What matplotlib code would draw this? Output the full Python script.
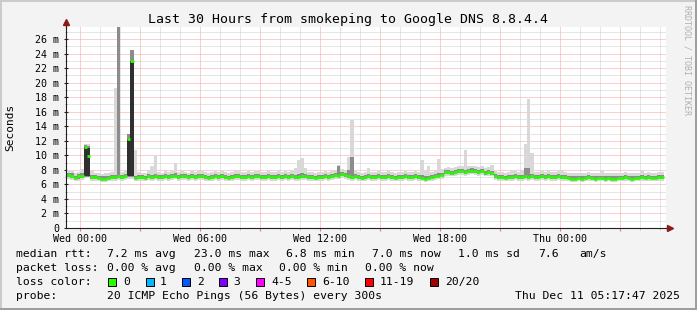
import numpy as np
import pandas as pd
import matplotlib
matplotlib.use("Agg")
import matplotlib.pyplot as plt
import matplotlib.dates as mdates
from matplotlib.patches import Rectangle
from matplotlib.ticker import MultipleLocator, FuncFormatter

# 10 minute bins starting Tue 23:20, values in ms
bin_start = "2025-12-09 23:20"
view_start = "2025-12-09 23:17:47"
view_end = "2025-12-11 05:17:47"

median_ms = [
    7.3, 7.2, 6.9, 7.1, 7.2, 11.1, 9.9, 7.0, 7.0, 6.9, 6.8, 6.8,
    6.9, 7.0, 7.0, 7.1, 7.0, 7.1, 12.2, 23.0, 6.9, 7.0, 7.0, 6.9,
    7.1, 7.0, 7.1, 7.0, 7.0, 7.1, 7.0, 7.1, 7.2, 7.0, 7.1, 7.1,
    7.0, 7.1, 7.0, 7.1, 7.1, 7.0, 6.9, 7.0, 7.1, 7.0, 7.1, 7.0,
    6.9, 7.0, 7.1, 7.1, 7.0, 7.0, 7.1, 7.0, 7.1, 7.1, 7.0, 7.0,
    7.1, 7.0, 7.0, 7.1, 7.0, 7.1, 7.0, 7.1, 7.0, 7.0, 7.1, 7.1,
    7.0, 7.0, 6.9, 7.0, 7.0, 7.1, 7.0, 7.1, 7.3, 7.2, 7.4, 7.3,
    7.1, 7.0, 7.1, 7.0, 6.9, 7.0, 7.1, 7.0, 7.0, 7.1, 7.0, 7.0,
    7.1, 7.0, 6.9, 7.0, 7.0, 7.1, 7.0, 7.0, 7.1, 7.0, 6.9, 6.8,
    6.9, 7.0, 7.1, 7.2, 7.3, 7.7, 7.7, 7.6, 7.7, 7.8, 7.8, 7.7,
    7.8, 7.9, 7.8, 7.7, 7.8, 7.6, 7.7, 7.6, 7.1, 7.0, 7.0, 6.9,
    7.0, 7.0, 7.1, 7.0, 7.0, 7.1, 7.0, 7.1, 7.0, 7.0, 7.1, 7.0,
    7.1, 7.0, 7.0, 7.1, 7.0, 7.0, 6.9, 6.8, 6.8, 6.9, 6.8, 6.9,
    7.0, 6.9, 6.8, 6.9, 6.9, 6.8, 6.9, 6.8, 6.8, 6.9, 6.9, 7.0,
    6.9, 6.8, 6.9, 6.9, 7.0, 6.9, 7.0, 6.9, 6.9, 7.0, 7.0,
]

smoke_max = [
    8.0, 7.9, 7.6, 7.7, 8.1, 11.6, 11.5, 7.8, 7.6, 7.5, 7.4, 7.5,
    7.6, 7.7, 19.3, 27.7, 7.7, 8.0, 12.9, 24.5, 10.7, 7.7, 7.6, 7.6,
    7.8, 8.5, 9.9, 7.7, 7.6, 7.8, 7.7, 7.8, 9.0, 7.7, 7.8, 7.7,
    7.6, 7.8, 7.7, 7.8, 7.8, 7.7, 7.6, 7.7, 7.8, 7.7, 7.9, 7.7,
    7.6, 7.7, 7.8, 7.8, 7.7, 7.7, 7.8, 7.7, 7.8, 7.9, 7.7, 7.7,
    7.8, 7.7, 7.7, 7.8, 7.7, 7.8, 7.7, 7.8, 8.3, 9.3, 9.6, 8.2,
    7.7, 7.7, 7.6, 7.7, 7.7, 7.8, 7.7, 7.8, 8.0, 8.7, 8.1, 8.0,
    9.8, 14.8, 7.8, 7.7, 7.6, 7.7, 8.2, 7.7, 7.7, 7.8, 7.7, 7.7,
    7.8, 7.7, 7.6, 7.7, 7.7, 7.8, 7.7, 7.7, 7.8, 7.7, 9.4, 7.9,
    8.6, 7.7, 7.8, 9.5, 8.1, 8.3, 8.4, 8.3, 8.4, 8.5, 8.5, 10.7,
    8.5, 8.6, 8.5, 8.4, 8.5, 8.3, 8.4, 8.7, 7.8, 7.7, 7.7, 7.6,
    7.7, 8.0, 7.8, 7.7, 7.8, 11.6, 17.8, 10.3, 7.7, 7.7, 7.8, 7.7,
    7.8, 7.7, 7.7, 7.8, 8.0, 7.7, 7.6, 7.5, 7.5, 7.6, 7.5, 7.6,
    7.7, 7.6, 7.5, 7.6, 8.0, 7.5, 7.6, 7.5, 7.5, 7.6, 7.6, 7.7,
    7.6, 7.5, 7.6, 7.6, 8.0, 7.6, 7.7, 7.6, 7.6, 7.7, 7.7,
]

smoke_min = [
    6.7, 6.6, 6.4, 6.5, 6.6, 7.0, 7.0, 6.5, 6.5, 6.4, 6.3, 6.3,
    6.4, 6.5, 6.5, 6.6, 6.5, 6.6, 6.8, 6.8, 6.4, 6.5, 6.5, 6.4,
    6.6, 6.5, 6.6, 6.5, 6.5, 6.6, 6.5, 6.6, 6.7, 6.5, 6.6, 6.6,
    6.5, 6.6, 6.5, 6.6, 6.6, 6.5, 6.4, 6.5, 6.6, 6.5, 6.6, 6.5,
    6.4, 6.5, 6.6, 6.6, 6.5, 6.5, 6.6, 6.5, 6.6, 6.6, 6.5, 6.5,
    6.6, 6.5, 6.5, 6.6, 6.5, 6.6, 6.5, 6.6, 6.5, 6.5, 6.6, 6.6,
    6.5, 6.5, 6.4, 6.5, 6.5, 6.6, 6.5, 6.6, 6.8, 6.7, 6.9, 6.8,
    6.6, 6.5, 6.6, 6.5, 6.4, 6.5, 6.6, 6.5, 6.5, 6.6, 6.5, 6.5,
    6.6, 6.5, 6.4, 6.5, 6.5, 6.6, 6.5, 6.5, 6.6, 6.5, 6.4, 6.3,
    6.4, 6.5, 6.6, 6.7, 6.8, 7.2, 7.2, 7.1, 7.2, 7.3, 7.3, 7.2,
    7.3, 7.4, 7.3, 7.2, 7.3, 7.1, 7.2, 7.1, 6.6, 6.5, 6.5, 6.4,
    6.5, 6.5, 6.6, 6.5, 6.5, 6.6, 6.5, 6.6, 6.5, 6.5, 6.6, 6.5,
    6.6, 6.5, 6.5, 6.6, 6.5, 6.5, 6.4, 6.3, 6.3, 6.4, 6.3, 6.4,
    6.5, 6.4, 6.3, 6.4, 6.4, 6.3, 6.4, 6.3, 6.3, 6.4, 6.4, 6.5,
    6.4, 6.3, 6.4, 6.4, 6.5, 6.4, 6.5, 6.4, 6.4, 6.5, 6.5,
]

band_hi = [
    7.6, 7.5, 7.2, 7.4, 7.5, 11.4, 11.3, 7.3, 7.3, 7.2, 7.1, 7.1,
    7.2, 7.3, 7.3, 27.7, 7.3, 7.4, 12.9, 24.5, 7.2, 7.3, 7.3, 7.2,
    7.4, 7.3, 7.4, 7.3, 7.3, 7.4, 7.3, 7.4, 7.5, 7.3, 7.4, 7.4,
    7.3, 7.4, 7.3, 7.4, 7.4, 7.3, 7.2, 7.3, 7.4, 7.3, 7.4, 7.3,
    7.2, 7.3, 7.4, 7.4, 7.3, 7.3, 7.4, 7.3, 7.4, 7.4, 7.3, 7.3,
    7.4, 7.3, 7.3, 7.4, 7.3, 7.4, 7.3, 7.4, 7.3, 7.4, 7.5, 7.4,
    7.3, 7.3, 7.2, 7.3, 7.3, 7.4, 7.3, 7.4, 7.6, 8.5, 7.7, 7.6,
    8.0, 9.8, 7.4, 7.3, 7.2, 7.3, 7.4, 7.3, 7.3, 7.4, 7.3, 7.3,
    7.4, 7.3, 7.2, 7.3, 7.3, 7.4, 7.3, 7.3, 7.4, 7.3, 7.3, 7.1,
    7.2, 7.3, 7.4, 7.5, 7.6, 8.0, 8.0, 7.9, 8.0, 8.1, 8.1, 8.0,
    8.1, 8.2, 8.1, 8.0, 8.1, 7.9, 8.0, 7.9, 7.4, 7.3, 7.3, 7.2,
    7.3, 7.3, 7.4, 7.3, 7.3, 8.2, 8.2, 7.4, 7.3, 7.3, 7.4, 7.3,
    7.4, 7.3, 7.3, 7.4, 7.3, 7.3, 7.2, 7.1, 7.1, 7.2, 7.1, 7.2,
    7.3, 7.2, 7.1, 7.2, 7.2, 7.1, 7.2, 7.1, 7.1, 7.2, 7.2, 7.3,
    7.2, 7.1, 7.2, 7.2, 7.3, 7.2, 7.3, 7.2, 7.2, 7.3, 7.3,
]

band_lo = [
    7.0, 6.9, 6.7, 6.8, 6.9, 7.0, 7.0, 6.8, 6.8, 6.7, 6.6, 6.6,
    6.7, 6.8, 6.8, 6.9, 6.8, 6.9, 7.0, 7.0, 6.7, 6.8, 6.8, 6.7,
    6.9, 6.8, 6.9, 6.8, 6.8, 6.9, 6.8, 6.9, 7.0, 6.8, 6.9, 6.9,
    6.8, 6.9, 6.8, 6.9, 6.9, 6.8, 6.7, 6.8, 6.9, 6.8, 6.9, 6.8,
    6.7, 6.8, 6.9, 6.9, 6.8, 6.8, 6.9, 6.8, 6.9, 6.9, 6.8, 6.8,
    6.9, 6.8, 6.8, 6.9, 6.8, 6.9, 6.8, 6.9, 6.8, 6.8, 6.9, 6.9,
    6.8, 6.8, 6.7, 6.8, 6.8, 6.9, 6.8, 6.9, 7.0, 7.0, 7.1, 7.0,
    6.9, 6.8, 6.9, 6.8, 6.7, 6.8, 6.9, 6.8, 6.8, 6.9, 6.8, 6.8,
    6.9, 6.8, 6.7, 6.8, 6.8, 6.9, 6.8, 6.8, 6.9, 6.8, 6.7, 6.6,
    6.7, 6.8, 6.9, 7.0, 7.1, 7.4, 7.4, 7.3, 7.4, 7.5, 7.5, 7.4,
    7.5, 7.6, 7.5, 7.4, 7.5, 7.3, 7.4, 7.3, 6.9, 6.8, 6.8, 6.7,
    6.8, 6.8, 6.9, 6.8, 6.8, 6.9, 6.8, 6.9, 6.8, 6.8, 6.9, 6.8,
    6.9, 6.8, 6.8, 6.9, 6.8, 6.8, 6.7, 6.6, 6.6, 6.7, 6.6, 6.7,
    6.8, 6.7, 6.6, 6.7, 6.7, 6.6, 6.7, 6.6, 6.6, 6.7, 6.7, 6.8,
    6.7, 6.6, 6.7, 6.7, 6.8, 6.7, 6.8, 6.7, 6.7, 6.8, 6.8,
]

# bins where all pings were high (dense dark smoke)
core_bins = [5, 6, 18, 19]
core_lo = [7.1, 7.1, 7.1, 7.1]
core_hi = [11.2, 11.0, 12.3, 23.0]

loss_labels = ["0", "1", "2", "3", "4-5", "6-10", "11-19", "20/20"]
loss_colors = ["#26ff00", "#00b8ff", "#0059ff", "#7e00ff",
               "#ff00ff", "#ff5500", "#ff0000", "#a10000"]
loss_box_x = [108, 146, 182, 219, 256, 307, 365, 430]
loss_text_x = [123, 160, 197, 233, 271, 322, 380, 445]

W, H = 697, 310
MONO = "DejaVu Sans Mono"


def px(x, y):
    return x / W, 1 - y / H


n = len(median_ms)
edges = pd.date_range(bin_start, periods=n + 1, freq="10min").to_numpy()


def pad(v):
    return np.append(v, v[-1])


fig = plt.figure(figsize=(W / 100, H / 100), dpi=100, facecolor="#f3f3f3")
ax = fig.add_axes([66.3 / W, 1 - 228 / H, 600 / W, (228 - 26.7) / H])
ax.set_facecolor("white")

ax.fill_between(edges, pad(smoke_min), pad(smoke_max), step="post",
                color="#d8d8d8", lw=0, zorder=2)
ax.fill_between(edges, pad(band_lo), pad(band_hi), step="post",
                color="#8c8c8c", lw=0, zorder=3)
core_x = edges[core_bins]
ax.bar(core_x, np.array(core_hi) - np.array(core_lo), bottom=core_lo,
       width=10 / 1440, align="edge", color="#303030", lw=0, zorder=4)
# median drawn as flat pieces per bin, like smokeping does
ax.hlines(median_ms, edges[:-1], edges[1:], color="#26ff00", lw=2.0,
          zorder=5)

ax.set_xlim(pd.Timestamp(view_start), pd.Timestamp(view_end))
ax.set_ylim(0, 27.7)

# grid: red every 3h / 2 ms, grey every 1h / 1 ms
ax.xaxis.set_major_locator(mdates.HourLocator(byhour=range(0, 24, 3)))
ax.xaxis.set_minor_locator(mdates.HourLocator())
ax.xaxis.set_major_formatter(FuncFormatter(
    lambda v, p: mdates.num2date(v).strftime("%a %H:%M")
    if mdates.num2date(v).hour % 6 == 0 else ""))
ax.yaxis.set_major_locator(MultipleLocator(2))
ax.yaxis.set_minor_locator(MultipleLocator(1))
ax.yaxis.set_major_formatter(FuncFormatter(
    lambda v, p: "0" if v == 0 else f"{v:.0f} m"))

dots = (0, (1, 1))
ax.set_axisbelow(True)
ax.grid(which="major", color="#f4a0a0", ls=dots, lw=0.72)
ax.grid(which="minor", color="#cccccc", ls=dots, lw=0.72)

for s in ["top", "right"]:
    ax.spines[s].set_visible(False)
for s in ["left", "bottom"]:
    ax.spines[s].set_color("#202020")
    ax.spines[s].set_linewidth(0.8)
    ax.spines[s].set_zorder(6)

ax.tick_params(axis="x", which="major", length=2.5, color="#e08080",
               labelsize=7.2, pad=1.5)
ax.tick_params(axis="x", which="minor", length=1.5, color="#bbbbbb")
ax.tick_params(axis="y", which="major", length=3, direction="inout",
               color="#202020", labelsize=7.2, pad=3.5)
ax.tick_params(axis="y", which="minor", length=2, direction="inout",
               color="#888888")
for lab in ax.get_xticklabels() + ax.get_yticklabels():
    lab.set_fontfamily(MONO)

# axis arrows
ax.plot([0, 0], [1, 1.012], color="#202020", lw=0.8, transform=ax.transAxes,
        clip_on=False, zorder=6)
ax.plot([0], [1.022], marker="^", ms=4, color="#8b1a1a", mec="#8b1a1a",
        transform=ax.transAxes, clip_on=False, zorder=7)
ax.plot([1, 1.004], [0, 0], color="#202020", lw=0.8, transform=ax.transAxes,
        clip_on=False, zorder=6)
ax.plot([1.007], [0], marker=">", ms=4, color="#8b1a1a", mec="#8b1a1a",
        transform=ax.transAxes, clip_on=False, zorder=7)

fig.text(*px(348, 19.5), "Last 30 Hours from smokeping to Google DNS 8.8.4.4",
         family=MONO, fontsize=9.5, ha="center", va="center")
fig.text(*px(10.5, 127.5), "Seconds", family=MONO, fontsize=8,
         rotation=90, ha="center", va="center")
fig.text(*px(687.5, 5), "RRDTOOL / TOBI OETIKER", family=MONO, fontsize=6,
         color="#b0b0b0", rotation=270, ha="center", va="top")

legend_fs = 8.2
row1 = [(16, "median rtt:"), (107, "7.2 ms avg"), (194, "23.0 ms max"),
        (286, "6.8 ms min"), (372, "7.0 ms now"), (458, "1.0 ms sd"),
        (538, "7.6"), (579, "am/s")]
row2 = [(16, "packet loss:"), (107, "0.00 % avg"), (194, "0.00 % max"),
        (279, "0.00 % min"), (365, "0.00 % now")]
for x, s in row1:
    fig.text(*px(x, 254), s, family=MONO, fontsize=legend_fs, va="center")
for x, s in row2:
    fig.text(*px(x, 268.3), s, family=MONO, fontsize=legend_fs, va="center")

fig.text(*px(16, 282), "loss color:", family=MONO, fontsize=legend_fs,
         va="center")
for bx, tx, lab, col in zip(loss_box_x, loss_text_x, loss_labels, loss_colors):
    fig.add_artist(Rectangle(px(bx, 285.5), 8 / W, 8 / H,
                             transform=fig.transFigure, facecolor=col,
                             edgecolor="black", lw=0.7))
    fig.text(*px(tx, 282), lab, family=MONO, fontsize=legend_fs, va="center")

fig.text(*px(16, 296.3), "probe:", family=MONO, fontsize=legend_fs,
         va="center")
fig.text(*px(107, 296.3), "20 ICMP Echo Pings (56 Bytes) every 300s",
         family=MONO, fontsize=legend_fs, va="center")
fig.text(*px(680, 296.3), "Thu Dec 11 05:17:47 2025", family=MONO,
         fontsize=legend_fs, va="center", ha="right")

# 3d frame around the image
for (x0, y0, w, h, c) in [(0, 0, W, 2, "#cbcbcb"), (0, 0, 2, H, "#cbcbcb"),
                          (W - 2, 0, 2, H, "#9e9e9e"), (0, H - 2, W, 2, "#9e9e9e")]:
    fig.add_artist(Rectangle((x0 / W, 1 - (y0 + h) / H), w / W, h / H,
                             transform=fig.transFigure, color=c, lw=0))

fig.savefig("out.png", dpi=100, facecolor=fig.get_facecolor())
